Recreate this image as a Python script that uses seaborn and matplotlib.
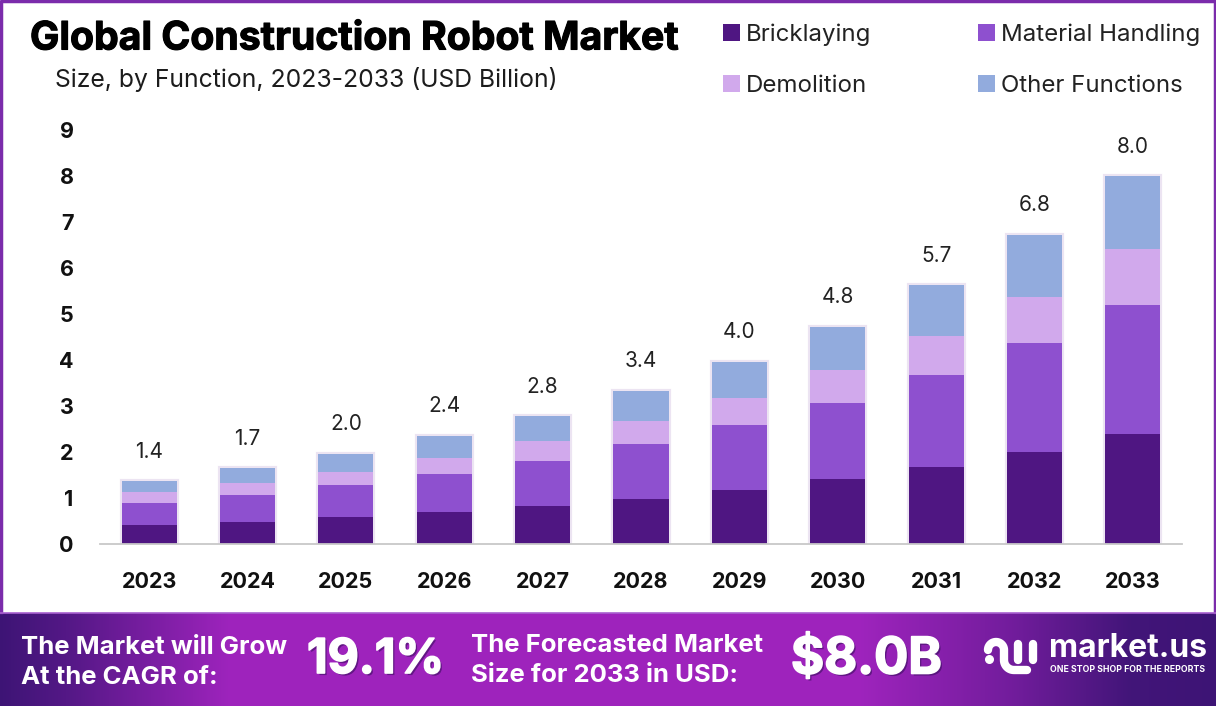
import numpy as np
import pandas as pd
import seaborn as sns
import matplotlib.pyplot as plt
import matplotlib.patheffects as pe

years = [2023, 2024, 2025, 2026, 2027, 2028, 2029, 2030, 2031, 2032, 2033]
bricklaying = [0.41, 0.48, 0.59, 0.70, 0.83, 0.98, 1.17, 1.41, 1.67, 2.00, 2.39]
material_handling = [0.48, 0.59, 0.69, 0.82, 0.97, 1.19, 1.42, 1.66, 2.00, 2.37, 2.81]
demolition = [0.24, 0.26, 0.29, 0.35, 0.44, 0.50, 0.58, 0.71, 0.85, 1.00, 1.21]
other_functions = [0.24, 0.32, 0.39, 0.48, 0.54, 0.66, 0.79, 0.94, 1.11, 1.35, 1.59]
total_labels = ['1.4', '1.7', '2.0', '2.4', '2.8', '3.4', '4.0', '4.8', '5.7', '6.8', '8.0']

names = ['Other Functions', 'Demolition', 'Material Handling', 'Bricklaying']
colors = ['#92abdd', '#d1a9ec', '#8e50cf', '#4f1682']

W, H = 1216, 706
plt.rcParams['font.family'] = ['Inter', 'DejaVu Sans']

df = pd.DataFrame({'year': years, 'Bricklaying': bricklaying, 'Material Handling': material_handling,
                   'Demolition': demolition, 'Other Functions': other_functions})

fig = plt.figure(figsize=(W / 100, H / 100), dpi=100, facecolor='white')

# page overlay in pixel coords, for border and banner
bg = fig.add_axes([0, 0, 1, 1], zorder=0)
bg.axis('off')
bg.plot([1, 1, W - 1, W - 1], [612, 1, 1, 612], color='#7b2cab', lw=2.5)
xs = np.arange(W)
stops = [0, 70, 230, 860, 1010, 1130, W]
c_dark = np.array([0.24, 0.08, 0.46])
c_mid = np.array([0.62, 0.14, 0.74])
amount = np.interp(xs, stops, [0, 0.25, 1, 1, 0.55, 0.05, 0])
img = c_dark + (c_mid - c_dark) * amount[:, None]
bg.imshow(img[None, :, :], extent=[0, W, H, 613], aspect='auto', zorder=1)
bg.plot([0, W], [612.5, 612.5], color='#a860cf', lw=1.2, zorder=2)
bg.set_xlim(0, W)
bg.set_ylim(H, 0)

ax = fig.add_axes([100 / W, 1 - 544 / H, 1082 / W, 414 / H], zorder=2)
ax.patch.set_alpha(0)

# stacked look: tallest cumulative bar first, the rest on top
cols = ['Bricklaying', 'Material Handling', 'Demolition', 'Other Functions']
cum = df[cols].cumsum(axis=1)
for name, color in zip(names, colors):
    sns.barplot(x=df['year'], y=cum[name], color=color, width=0.56, saturation=1, label=name, ax=ax)

ax.bar_label(ax.containers[0], labels=total_labels, padding=14, fontsize=15, color='#222222')

ax.set_xlim(-0.5, 10.5)
ax.set_ylim(0, 9)
ax.set_yticks(range(10))
ax.set_xlabel('')
ax.set_ylabel('')
ax.tick_params(axis='both', length=0)
ax.tick_params(axis='x', pad=20)
ax.tick_params(axis='y', pad=19)
for lab in ax.get_xticklabels() + ax.get_yticklabels():
    lab.set_fontsize(15.5)
    lab.set_fontweight('bold')
    lab.set_color('#111111')
sns.despine(ax=ax, left=True)
ax.spines['bottom'].set_color('#c8c8c8')
ax.spines['bottom'].set_linewidth(1.3)

handles, labels = ax.get_legend_handles_labels()
ax.get_legend().remove()
order = [labels.index(n) for n in ['Bricklaying', 'Demolition', 'Material Handling', 'Other Functions']]
fig.legend([handles[i] for i in order], [labels[i] for i in order], ncol=2, frameon=False,
           loc='upper left', bbox_to_anchor=(723 / W, 1 - 23 / H), fontsize=17.3,
           handlelength=0.7, handleheight=0.7, handletextpad=0.25,
           columnspacing=4.45, labelspacing=1.22, labelcolor='#222222', borderpad=0, borderaxespad=0)

# soft halo round the bars, set after the legend so its swatch stays clean
for bar in ax.containers[0]:
    bar.set_path_effects([pe.Stroke(linewidth=3, foreground='#ece4f2'), pe.Normal()])

fig.text(30 / W, 1 - 39 / H, 'Global Construction Robot Market', fontsize=28.2, fontweight='bold',
         color='black', va='center', ha='left',
         path_effects=[pe.withStroke(linewidth=0.8, foreground='black')])
fig.text(55 / W, 1 - 79 / H, 'Size, by Function, 2023-2033 (USD Billion)', fontsize=17.8,
         color='#1c1c1c', va='center', ha='left')

# banner text
ov = fig.add_axes([0, 0, 1, 1], zorder=3)
ov.set_xlim(0, W)
ov.set_ylim(H, 0)
ov.axis('off')
heavy = [pe.SimplePatchShadow(offset=(1.5, -1.5), shadow_rgbFace='#3a0f60', alpha=0.6),
         pe.withStroke(linewidth=1.2, foreground='white')]
ov.text(21, 647, 'The Market will Grow', fontsize=18.5, fontweight='bold', color='white', va='center')
ov.text(21, 677, 'At the CAGR of:', fontsize=18.5, fontweight='bold', color='white', va='center')
ov.text(471, 645, 'The Forecasted Market', fontsize=18.5, fontweight='bold', color='white', va='center')
ov.text(471, 676, 'Size for 2033 in USD:', fontsize=18.5, fontweight='bold', color='white', va='center')
ov.text(307, 660, '19.1%', fontsize=34.5, fontweight='bold', color='white', va='center', path_effects=heavy)
ov.text(791, 660, '$8.0B', fontsize=36.5, fontweight='bold', color='white', va='center', path_effects=heavy)

# logo, thick round strokes
a = np.linspace(np.pi, 2 * np.pi, 30)
b = np.linspace(np.pi, np.pi / 2, 20)
logo_x = np.r_[996 + 8 * np.cos(a), 1014 + 10 * np.cos(b), 1027]
logo_y = np.r_[650 + 8 * np.sin(a), 660 + 10 * np.sin(b), 670]
logo_style = dict(color='white', lw=6, solid_capstyle='round', solid_joinstyle='round')
ov.plot(logo_x, logo_y, **logo_style)
ov.plot([1018, 1018], [644, 660], **logo_style)
ov.plot([1033, 1033], [644, 660], **logo_style)
ov.scatter([989], [659], s=30, color='white')
ov.text(1049, 657, 'market.us', fontsize=23, fontweight='bold', color='white', va='baseline')
ov.text(1050, 670, 'ONE STOP SHOP FOR THE REPORTS', fontsize=6.3, fontweight='bold', color='white', va='center')

plt.savefig('out.png', dpi=100)
